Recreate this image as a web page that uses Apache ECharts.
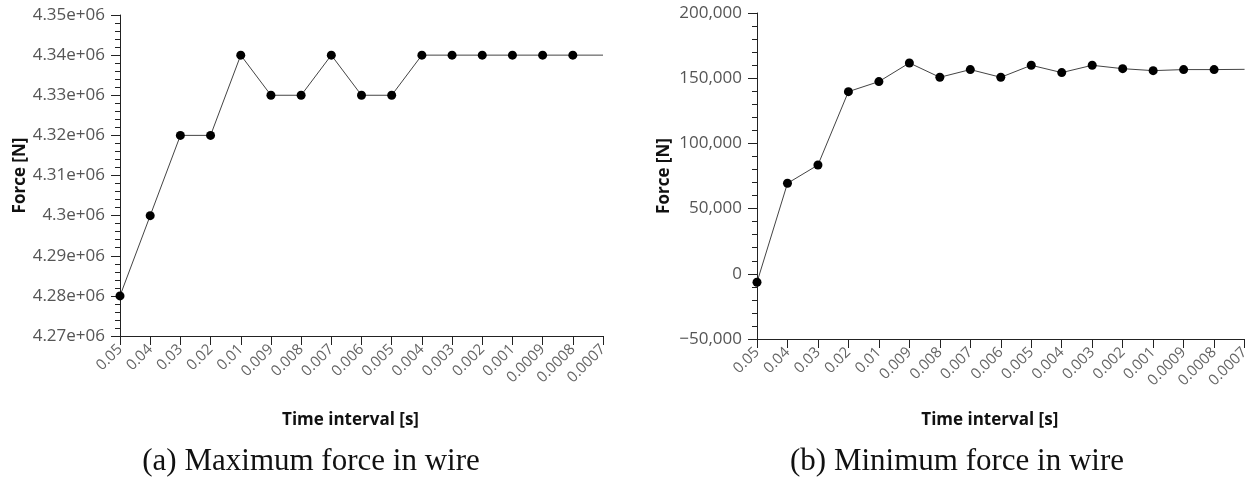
<!DOCTYPE html>
<html>
<head>
<meta charset="utf-8">
<script src="https://cdn.jsdelivr.net/npm/echarts@6/dist/echarts.min.js"></script>
<style>
  html, body { margin: 0; padding: 0; background: #fff; }
  #chart { width: 1252px; height: 478px; }
</style>
</head>
<body>
<div id="chart"></div>
<script>
// Time step sizes used in the convergence study (x axis categories)
const timeIntervals = ['0.05', '0.04', '0.03', '0.02', '0.01', '0.009', '0.008', '0.007',
  '0.006', '0.005', '0.004', '0.003', '0.002', '0.001', '0.0009', '0.0008', '0.0007'];

// Maximum force in wire [N]
const maxForce = [4280000, 4300000, 4320000, 4320000, 4340000, 4330000, 4330000, 4340000,
  4330000, 4330000, 4340000, 4340000, 4340000, 4340000, 4340000, 4340000, 4340000];

// Minimum force in wire [N]
const minForce = [-6500, 69400, 83400, 139700, 147400, 161700, 150700, 156600,
  150700, 159900, 154300, 159900, 157300, 155800, 156600, 156600, 156800];

// Figure captions
const captions = ['(a) Maximum force in wire', '(b) Minimum force in wire'];

const TICK_FONT = '"Open Sans", "Noto Sans", sans-serif';
const NAME_FONT = '"Open Sans", "Noto Sans", sans-serif';

function formatSci(v) {
  return Number((v / 1e6).toFixed(4)) + 'e+06';
}
function formatComma(v) {
  const s = Math.abs(v).toString().replace(/\B(?=(\d{3})+(?!\d))/g, ',');
  return (v < 0 ? '\u2212' : '') + s;
}

// last sample is drawn as a plain line end without a dot
function seriesData(values) {
  return values.map((v, i) => i === values.length - 1 ? { value: v, symbol: 'none' } : v);
}

function xAxisFor(gridIndex, namePad, nameGap) {
  return {
    type: 'category',
    gridIndex: gridIndex,
    data: timeIntervals,
    boundaryGap: false,
    name: 'Time interval [s]',
    nameLocation: 'middle',
    nameGap: nameGap,
    nameTextStyle: { fontFamily: NAME_FONT, fontWeight: 'bold', fontSize: 17, color: '#111', padding: [0, namePad, 0, 0] },
    axisLine: { show: true, onZero: false, lineStyle: { color: '#222', width: 1 } },
    axisTick: { show: true, alignWithLabel: true, length: 9, lineStyle: { color: '#222' } },
    axisLabel: { rotate: 45, margin: 11, fontFamily: TICK_FONT, fontSize: 15, color: '#666', interval: 0 },
    splitLine: { show: false }
  };
}

function yAxisFor(gridIndex, min, max, interval, formatter, nameGap) {
  return {
    type: 'value',
    gridIndex: gridIndex,
    min: min,
    max: max,
    interval: interval,
    name: 'Force [N]',
    nameLocation: 'middle',
    nameGap: nameGap,
    nameTextStyle: { fontFamily: NAME_FONT, fontWeight: 'bold', fontSize: 17, color: '#111' },
    axisLine: { show: true, onZero: false, lineStyle: { color: '#222', width: 1 } },
    axisTick: { show: true, length: 9, lineStyle: { color: '#222' } },
    minorTick: { show: true, splitNumber: 5, length: 5, lineStyle: { color: '#222' } },
    axisLabel: { margin: 15, fontFamily: TICK_FONT, fontSize: 17, color: '#555', formatter: formatter },
    splitLine: { show: false },
    minorSplitLine: { show: false }
  };
}

function lineSeries(index, values) {
  return {
    type: 'line',
    xAxisIndex: index,
    yAxisIndex: index,
    data: seriesData(values),
    symbol: 'circle',
    symbolSize: 9,
    showAllSymbol: true,
    itemStyle: { color: '#000' },
    lineStyle: { color: '#444', width: 1 },
    animation: false
  };
}

const chart = echarts.init(document.getElementById('chart'), null, { renderer: 'canvas' });
chart.setOption({
  backgroundColor: '#fff',
  animation: false,
  title: [
    { text: captions[0], left: 306, top: 441, textAlign: 'center',
      textStyle: { fontFamily: '"Liberation Serif", "DejaVu Serif", serif', fontWeight: 'normal', fontSize: 31, color: '#111' } },
    { text: captions[1], left: 952, top: 441, textAlign: 'center',
      textStyle: { fontFamily: '"Liberation Serif", "DejaVu Serif", serif', fontWeight: 'normal', fontSize: 31, color: '#111' } }
  ],
  grid: [
    { left: 120, top: 15, width: 483, height: 321, containLabel: false },
    { left: 757, top: 13, width: 489, height: 326, containLabel: false }
  ],
  xAxis: [xAxisFor(0, 22, 76), xAxisFor(1, 22, 73)],
  yAxis: [
    yAxisFor(0, 4270000, 4350000, 10000, formatSci, 90),
    yAxisFor(1, -50000, 200000, 50000, formatComma, 84)
  ],
  series: [lineSeries(0, maxForce), lineSeries(1, minForce)]
});
</script>
</body>
</html>
